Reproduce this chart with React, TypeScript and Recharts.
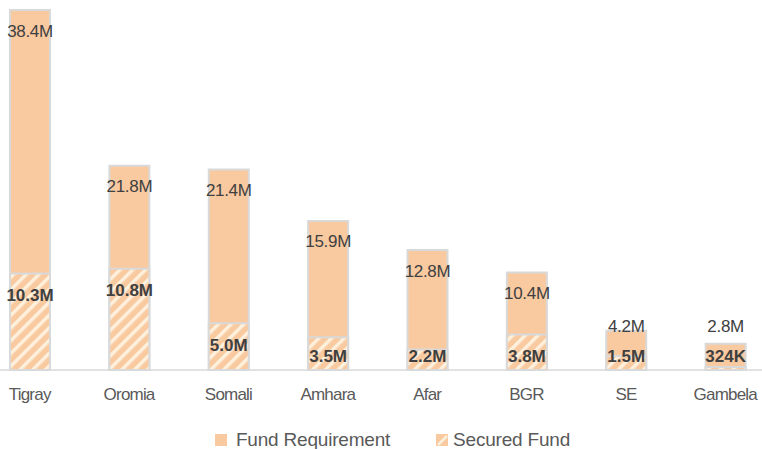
import React from 'react';
import { BarChart, Bar, XAxis, YAxis, Legend, LabelList } from 'recharts';

const regions = ['Tigray', 'Oromia', 'Somali', 'Amhara', 'Afar', 'BGR', 'SE', 'Gambela'];
// values in millions
const fundRequirement = [38.4, 21.8, 21.4, 15.9, 12.8, 10.4, 4.2, 2.8];
const securedFund = [10.3, 10.8, 5.0, 3.5, 2.2, 3.8, 1.5, 0.324];

const data = regions.map((r, i) => ({
  region: r,
  requirement: fundRequirement[i],
  secured: securedFund[i],
}));

const FILL = '#f9c9a0';
const STRIPE = '#fdf0dc';
const BORDER = '#d9d9d9';
const TEXT = '#404040';
const FONT = '"Liberation Sans", Arial, sans-serif';

const fmt = (v: number) => (v < 1 ? `${Math.round(v * 1000)}K` : `${v.toFixed(1)}M`);

// secured label sits just below the top of the secured part, but never below the baseline area
const securedLabelY = (top: number, base: number) => Math.min(top + 22, base - 14);

const SecuredLabel = (props: any) => {
  const { x, y, width, height, value } = props;
  const base = y + height;
  const cy = securedLabelY(y, base);
  return (
    <text x={x + width / 2} y={cy} textAnchor="middle" dominantBaseline="central"
      fontSize={17} fontWeight="bold" fill={TEXT} fontFamily={FONT}>
      {fmt(value)}
    </text>
  );
};

const ReqLabel = (props: any) => {
  const { x, y, width, height, value, index } = props;
  const base = y + height;
  const secTop = base - (height * securedFund[index]) / value;
  const cy = Math.min(y + 21, securedLabelY(secTop, base) - 30);
  return (
    <text x={x + width / 2} y={cy} textAnchor="middle" dominantBaseline="central"
      fontSize={17} fill={TEXT} fontFamily={FONT} letterSpacing={-0.3}>
      {fmt(value)}
    </text>
  );
};

const LegendContent = () => (
  <div style={{ display: 'flex', justifyContent: 'center', alignItems: 'center', gap: 46, fontFamily: FONT, fontSize: 19, color: '#595959', letterSpacing: -0.2, paddingTop: 20, paddingLeft: 30 }}>
    <div style={{ display: 'flex', alignItems: 'center', gap: 9 }}>
      <svg width={12} height={12}><rect width={12} height={12} fill={FILL} /></svg>
      <span>Fund Requirement</span>
    </div>
    <div style={{ display: 'flex', alignItems: 'center', gap: 5 }}>
      <svg width={12} height={12}>
        <rect width={12} height={12} fill={FILL} />
        <path d="M2 11 L11 2" stroke={STRIPE} strokeWidth={2.5} />
      </svg>
      <span>Secured Fund</span>
    </div>
  </div>
);

export default function App() {
  return (
    <div style={{ position: 'absolute', left: 0, top: 0, width: 762, height: 449, overflow: 'hidden', background: '#fff' }}>
      <div style={{ position: 'absolute', left: -20, top: 0 }}>
        <BarChart width={795} height={449} data={data} barSize={40} barGap={-40}
          margin={{ top: 10, right: 0, bottom: 0, left: 0 }}>
          <defs>
            <pattern id="hatch" width="9" height="9" patternUnits="userSpaceOnUse" patternTransform="rotate(45)">
              <rect width="9" height="9" fill={FILL} />
              <rect width="3.5" height="9" fill={STRIPE} />
            </pattern>
          </defs>
          <XAxis dataKey="region" axisLine={{ stroke: BORDER, strokeWidth: 1.5 }} tickLine={false}
            height={39} tickMargin={12}
            tick={{ fill: '#595959', fontSize: 17, fontFamily: FONT, letterSpacing: -0.8 }} />
          <YAxis hide domain={[0, 38.4]} />
          <Legend verticalAlign="bottom" height={40} content={<LegendContent />} />
          <Bar dataKey="requirement" name="Fund Requirement" fill={FILL} stroke={BORDER} strokeWidth={2}
            isAnimationActive={false}>
            <LabelList dataKey="requirement" content={<ReqLabel />} />
          </Bar>
          <Bar dataKey="secured" name="Secured Fund" fill="url(#hatch)" stroke={BORDER} strokeWidth={2}
            isAnimationActive={false}>
            <LabelList dataKey="secured" content={<SecuredLabel />} />
          </Bar>
        </BarChart>
      </div>
    </div>
  );
}
